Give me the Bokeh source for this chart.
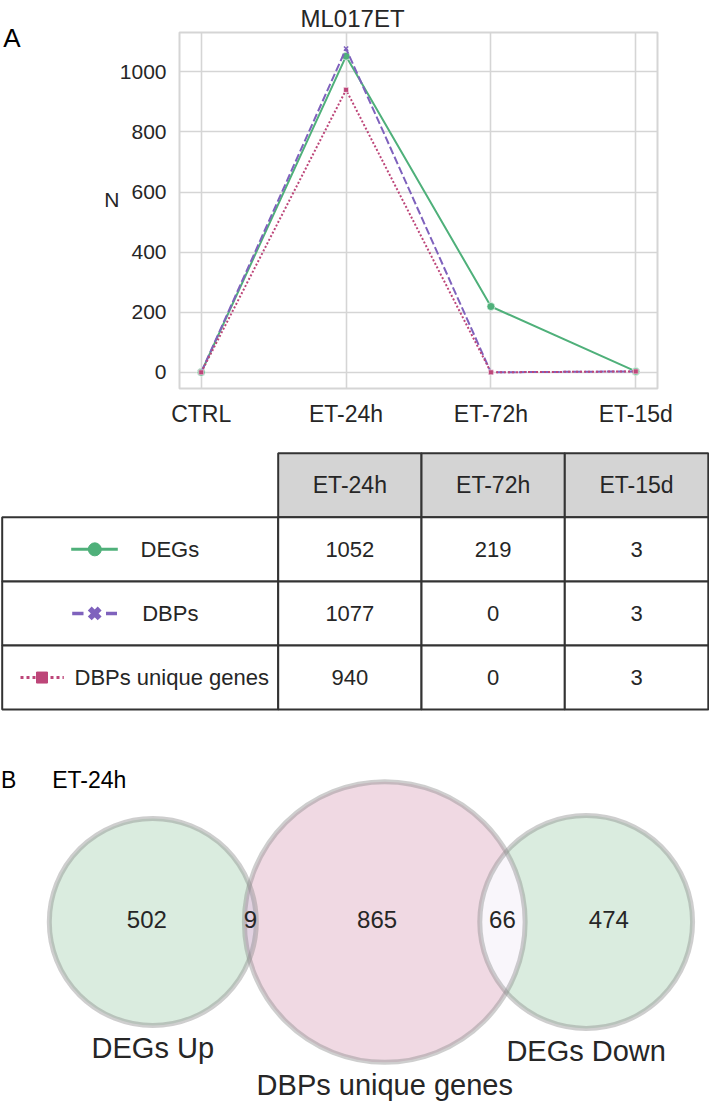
import numpy as np
from bokeh.plotting import figure
from bokeh.layouts import column
from bokeh.models import Range1d, FixedTicker, LinearAxis
from bokeh.embed import file_html
from bokeh.resources import INLINE
from bokeh.core.properties import value

# ---------------- data ----------------
timepoints = ["CTRL", "ET-24h", "ET-72h", "ET-15d"]
series_names = ["DEGs", "DBPs", "DBPs unique genes"]
degs = [0, 1052, 219, 3]
dbps = [0, 1077, 0, 3]
dbps_unique = [0, 940, 0, 3]
y_ticks = [0, 200, 400, 600, 800, 1000]
chart_title = "ML017ET"
y_label = "N"
panel_a = "A"
panel_b = "B"

venn_title = "ET-24h"
venn_set_names = ["DEGs Up", "DBPs unique genes", "DEGs Down"]
venn_up_only = 502
venn_up_dbp = 9
venn_dbp_only = 865
venn_dbp_down = 66
venn_down_only = 474

# ---------------- style ----------------
FONT = "Liberation Sans"
TXT = "#262626"
GREEN = "#4fb07a"
PURPLE = "#7f62bd"
MAGENTA = "#bd4679"
GRID = "#d5d5d5"
V_GREEN = "#daecdf"
V_PINK = "#f0d9e3"
V_LENS1 = "#e2d2e2"
V_LENS2 = "#f9f6fb"
W = 709


def style_axis(ax, size, standoff, color=TXT):
    ax.axis_line_color = None
    ax.major_tick_line_color = None
    ax.minor_tick_line_color = None
    ax.major_tick_in = 0
    ax.major_tick_out = 0
    ax.minor_tick_in = 0
    ax.minor_tick_out = 0
    ax.major_label_text_font = FONT
    ax.major_label_text_color = color
    ax.major_label_text_font_size = size
    ax.major_label_standoff = standoff


# =============== panel A: line chart ===============
P1_H, FL, FW, FT, FH = 445, 179, 478, 32, 356
n = len(timepoints)
x_idx = list(range(n))
padx = 0.05 * (n - 1)
xr = (-padx, n - 1 + padx)
allv = degs + dbps + dbps_unique
pady = 0.05 * (max(allv) - min(allv))
yr = (min(allv) - pady, max(allv) + pady)

p1 = figure(width=W, height=P1_H, x_range=Range1d(*xr), y_range=Range1d(*yr),
            output_backend="svg", toolbar_location=None, title=chart_title,
            min_border_left=FL, min_border_right=W - FL - FW,
            min_border_top=FT, min_border_bottom=P1_H - FT - FH)


def p1y(Y):
    return yr[1] - (Y - FT) / FH * (yr[1] - yr[0])


p1.title.text_font = FONT
p1.title.text_font_size = "24px"
p1.title.text_font_style = "normal"
p1.title.text_color = TXT
p1.title.align = "left"
p1.title.offset = 121
p1.title.standoff = 2

p1.xaxis.ticker = FixedTicker(ticks=x_idx)
p1.xaxis.major_label_overrides = {i: t for i, t in enumerate(timepoints)}
p1.yaxis.ticker = FixedTicker(ticks=y_ticks)
style_axis(p1.xaxis[0], "23px", 12)
style_axis(p1.yaxis[0], "21px", 13)

# horizontal "N" label and panel letter "A" as single-tick outer axes
yN = int(round(p1y(199)))
yA = int(round(p1y(37.5)))
axN = LinearAxis(ticker=FixedTicker(ticks=[yN]), major_label_overrides={yN: y_label})
style_axis(axN, "21px", -3)
p1.add_layout(axN, "left")
axA = LinearAxis(ticker=FixedTicker(ticks=[yA]), major_label_overrides={yA: panel_a})
style_axis(axA, "26px", 81, "black")
p1.add_layout(axA, "left")

p1.xgrid.ticker = FixedTicker(ticks=x_idx)
p1.ygrid.ticker = FixedTicker(ticks=y_ticks)
for g in (p1.xgrid[0], p1.ygrid[0]):
    g.grid_line_color = GRID
    g.grid_line_width = 1.6
p1.outline_line_color = GRID
p1.outline_line_width = 2

specs = [
    (degs, GREEN, "solid", "circle", 8),
    (dbps, PURPLE, "8 3", "x", 6),
    (dbps_unique, MAGENTA, "2 2", "square", 5),
]
for vals, color, dash, marker, size in specs:
    p1.line(x_idx, vals, line_color=color, line_width=2, line_dash=dash)
    if marker == "x":
        p1.scatter(x_idx, vals, marker=marker, size=size, line_color=color, line_width=1.5)
    else:
        p1.scatter(x_idx, vals, marker=marker, size=size, fill_color=color,
                   line_color="white", line_width=0.6)

# =============== table ===============
P2_TOP, P2_H = P1_H, 270
p2 = figure(width=W, height=P2_H, x_range=Range1d(0, W), y_range=Range1d(P2_TOP + P2_H, P2_TOP),
            output_backend="svg", toolbar_location=None, title=None,
            x_axis_type=None, y_axis_type=None, min_border=0)
p2.grid.visible = False
p2.outline_line_color = None

col_edges = [1.7, 277.7, 421, 564.3, 707.8]
head_top, row_h = 452.7, 64.1
body_top = head_top + row_h
BORDER = "#333333"

p2.quad(left=col_edges[1:4], right=col_edges[2:5], top=[head_top] * 3, bottom=[body_top] * 3,
        fill_color="#d4d4d4", line_color=BORDER, line_width=2)
p2.text(x=[(col_edges[i] + col_edges[i + 1]) / 2 for i in range(1, 4)],
        y=[head_top + row_h / 2] * 3, text=timepoints[1:], text_align="center",
        text_baseline="middle", text_font=value(FONT), text_font_size="23px", text_color=TXT)

series_vals = [degs, dbps, dbps_unique]
for r, vals in enumerate(series_vals):
    top = body_top + r * row_h
    p2.quad(left=col_edges[:4], right=col_edges[1:], top=[top] * 4, bottom=[top + row_h] * 4,
            fill_color="white", line_color=BORDER, line_width=2)
    cy = top + row_h / 2
    p2.text(x=[(col_edges[i] + col_edges[i + 1]) / 2 for i in range(1, 4)], y=[cy] * 3,
            text=[str(v) for v in vals[1:]], text_align="center", text_baseline="middle",
            text_font=value(FONT), text_font_size="22px", text_color=TXT)

rc = [body_top + (r + 0.5) * row_h for r in range(3)]
p2.line([70.7, 117.3], [rc[0], rc[0]], line_color=GREEN, line_width=3)
p2.scatter([94.3], [rc[0]], marker="circle", size=13, fill_color=GREEN, line_color=GREEN)
p2.multi_line([[71.7, 83], [105.5, 116.5]], [[rc[1], rc[1]], [rc[1], rc[1]]],
              line_color=PURPLE, line_width=3.5)
p2.scatter([94.2], [rc[1]], marker="x", size=14, line_color=PURPLE, line_width=5.5)
p2.line([20, 63.3], [rc[2], rc[2]], line_color=MAGENTA, line_width=3, line_dash="3 3")
p2.scatter([41.5], [rc[2]], marker="square", size=11, fill_color=MAGENTA, line_color=MAGENTA)
p2.text(x=[140, 141.7, 74], y=rc, text=series_names, text_align="left", text_baseline="middle",
        text_font=value(FONT), text_font_size="22px", text_color=TXT)

# =============== panel B: venn ===============
P3_TOP = P2_TOP + P2_H
P3_H = 1101 - P3_TOP


def lens_area(r1, r2, d):
    if d >= r1 + r2:
        return 0.0
    if d <= abs(r1 - r2):
        return np.pi * min(r1, r2) ** 2
    a1 = r1 * r1 * np.arccos((d * d + r1 * r1 - r2 * r2) / (2 * d * r1))
    a2 = r2 * r2 * np.arccos((d * d + r2 * r2 - r1 * r1) / (2 * d * r2))
    a3 = 0.5 * np.sqrt((-d + r1 + r2) * (d + r1 - r2) * (d - r1 + r2) * (d + r1 + r2))
    return a1 + a2 - a3


def solve_distance(r1, r2, area):
    lo, hi = abs(r1 - r2), r1 + r2
    for _ in range(200):
        mid = 0.5 * (lo + hi)
        if lens_area(r1, r2, mid) > area:
            lo = mid
        else:
            hi = mid
    return 0.5 * (lo + hi)


def lens_polygon(c1, r1, c2, r2, k=80):
    d = c2 - c1
    a = (d * d + r1 * r1 - r2 * r2) / (2 * d)
    h = np.sqrt(max(r1 * r1 - a * a, 0))
    t1 = np.arctan2(h, a)
    t2 = np.arctan2(h, d - a)
    ang1 = np.linspace(-t1, t1, k)
    ang2 = np.linspace(np.pi - t2, np.pi + t2, k)
    xs = np.concatenate([c1 + r1 * np.cos(ang1), c2 + r2 * np.cos(ang2)])
    ys = np.concatenate([r1 * np.sin(ang1), r2 * np.sin(ang2)])
    return list(xs), list(ys)


tot_up = venn_up_only + venn_up_dbp
tot_dbp = venn_dbp_only + venn_up_dbp + venn_dbp_down
tot_down = venn_down_only + venn_dbp_down
r_up, r_dbp, r_down = [np.sqrt(t / np.pi) for t in (tot_up, tot_dbp, tot_down)]
d12 = solve_distance(r_up, r_dbp, venn_up_dbp)
d23 = solve_distance(r_dbp, r_down, venn_dbp_down)
cx = [0.0, d12, d12 + d23]
radii = [r_up, r_dbp, r_down]

S = 103.5 / r_up           # pixels per unit
CX0, CY0 = 152.3, 921.5    # page position of the first circle
vx0 = -CX0 / S
vy0 = -(P3_TOP + P3_H - CY0) / S
p3 = figure(width=W, height=P3_H, x_range=Range1d(vx0, vx0 + W / S),
            y_range=Range1d(vy0, vy0 + P3_H / S),
            output_backend="svg", toolbar_location=None, title=None,
            x_axis_type=None, y_axis_type=None, min_border=0)
p3.grid.visible = False
p3.outline_line_color = None

p3.circle(x=[cx[0], cx[2]], y=[0, 0], radius=[radii[0], radii[2]], fill_color=V_GREEN, line_color=None)
p3.circle(x=[cx[1]], y=[0], radius=[radii[1]], fill_color=V_PINK, line_color=None)
lx, ly = lens_polygon(cx[0], radii[0], cx[1], radii[1])
p3.patch(lx, ly, fill_color=V_LENS1, line_color=None)
lx, ly = lens_polygon(cx[1], radii[1], cx[2], radii[2])
p3.patch(lx, ly, fill_color=V_LENS2, line_color=None)
p3.circle(x=cx, y=[0, 0, 0], radius=radii, fill_color=None, line_color="#8a8a8a",
          line_alpha=0.42, line_width=5)

gx = np.linspace(cx[1] - radii[1], cx[1] + radii[1], 500)
gy = np.linspace(-radii[1], radii[1], 500)
GX, GY = np.meshgrid(gx, gy)
inside = ((GX - cx[1]) ** 2 + GY ** 2 <= radii[1] ** 2) & \
         ((GX - cx[0]) ** 2 + GY ** 2 > radii[0] ** 2) & \
         ((GX - cx[2]) ** 2 + GY ** 2 > radii[2] ** 2)
mid_x = float(GX[inside].mean())
lab_x = [
    0.5 * (cx[0] - radii[0] + cx[1] - radii[1]),
    0.5 * (cx[1] - radii[1] + cx[0] + radii[0]),
    mid_x,
    0.5 * (cx[2] - radii[2] + cx[1] + radii[1]),
    0.5 * (cx[1] + radii[1] + cx[2] + radii[2]),
]
lab_t = [str(v) for v in (venn_up_only, venn_up_dbp, venn_dbp_only, venn_dbp_down, venn_down_only)]
p3.text(x=lab_x, y=[0.25] * 5, text=lab_t, text_align="center", text_baseline="middle",
        text_font=value(FONT), text_font_size="24px", text_color=TXT)
p3.text(x=cx, y=[-(r + 0.86) for r in radii], text=venn_set_names, text_align="center",
        text_baseline="top", text_font=value(FONT), text_font_size="29px", text_color=TXT)

# panel letter and subtitle
p3.text(x=[vx0 + 0.5 / S], y=[(CY0 - 779.5) / S], text=[panel_b],
        text_align="left", text_baseline="middle", text_font=value(FONT),
        text_font_size="23px", text_color="black")
p3.text(x=[(51.7 - CX0) / S], y=[(CY0 - 779.5) / S], text=[venn_title],
        text_align="left", text_baseline="middle", text_font=value(FONT),
        text_font_size="23px", text_color="black")

for p in (p1, p2, p3):
    if "frame_align" in p.properties():
        p.frame_align = False

layout = column(p1, p2, p3)
open("out.html", "w").write(file_html(layout, INLINE))
